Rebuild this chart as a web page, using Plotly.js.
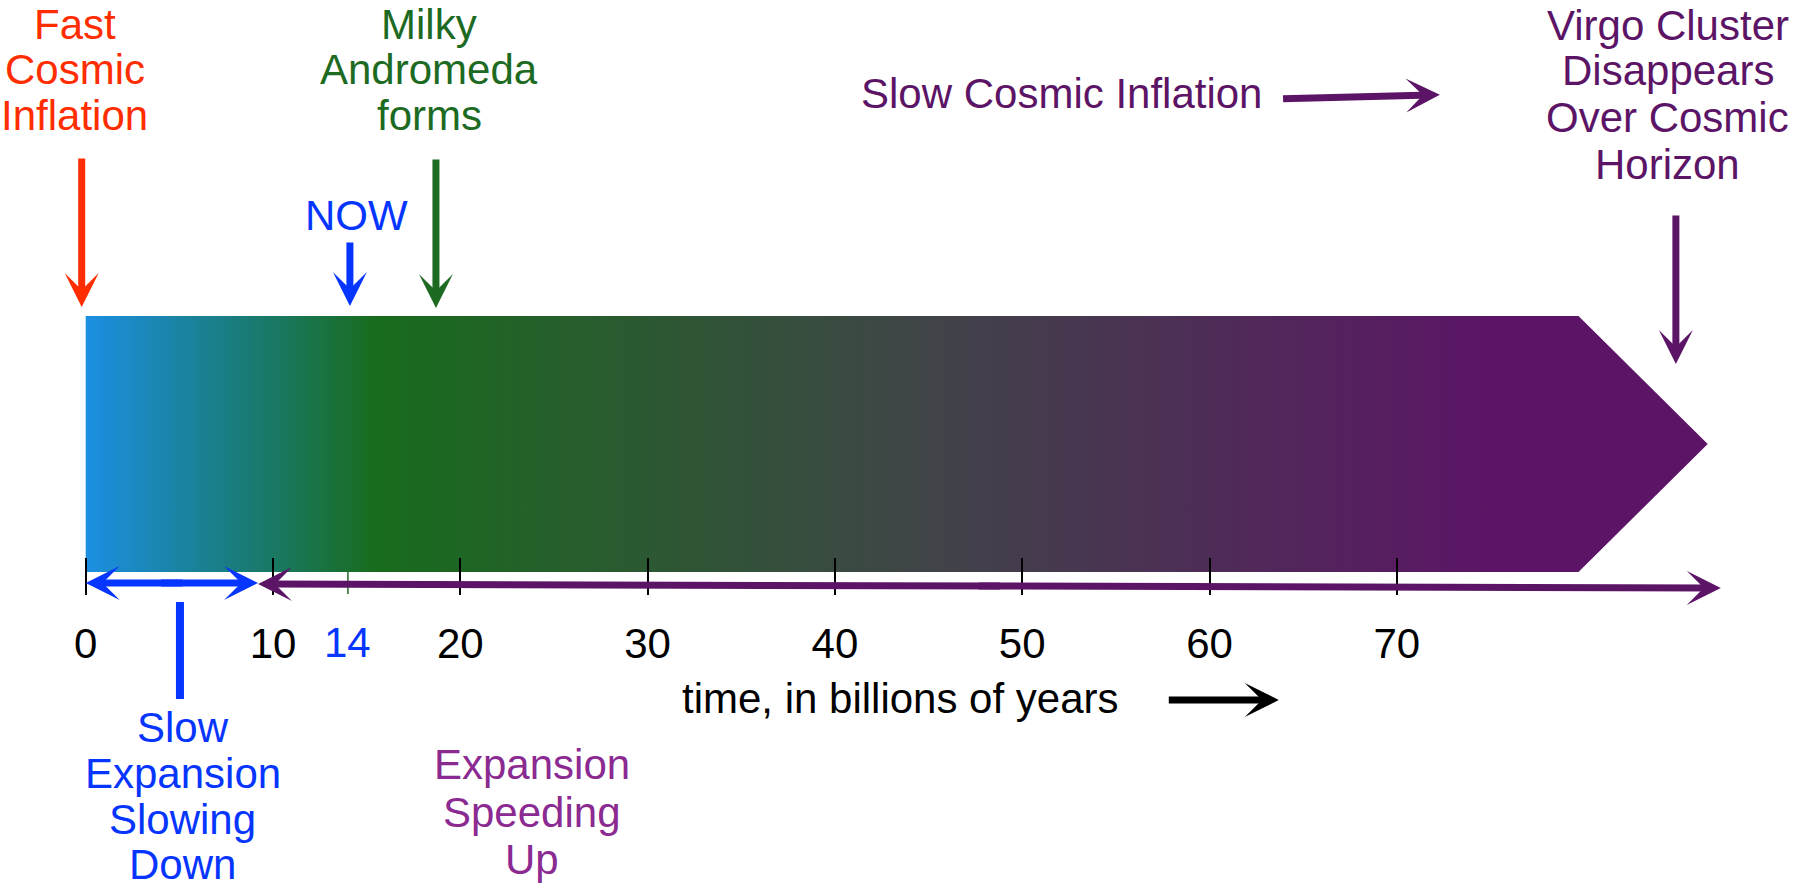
<!DOCTYPE html>
<html><head><meta charset="utf-8">
<script src="https://cdn.plot.ly/plotly-3.0.1.min.js"></script>
<style>html,body{margin:0;padding:0;background:#fff;overflow:hidden}#chart{width:1794px;height:889px}</style>
</head><body><div id="chart"></div>
<script>
// ---------------- data ----------------
const tickValues = [0, 10, 20, 30, 40, 50, 60, 70];
const tickLabels = ['0', '10', '20', '30', '40', '50', '60', '70'];
const nowTime = 14;
const nowLabel = '14';
const barTimes = [0, 79.7, 86.6];            // start, end of body, tip (billions of years)
const eventNames = ['Fast\nCosmic\nInflation', 'NOW', 'Milky\nAndromeda\nforms', 'Virgo Cluster\nDisappears\nOver Cosmic\nHorizon'];
const eventTimes = [0, 14, 18.7, 84.9];
const periodNames = ['Slow\nExpansion\nSlowing\nDown', 'Expansion\nSpeeding\nUp'];
const periodStart = [0, 9.2];
const periodEnd = [9.2, 87.3];
const phaseName = 'Slow Cosmic Inflation';
const axisTitle = 'time, in billions of years';

// ---------------- layout / style ----------------
const W = 1794, H = 889;
const FONT = 'Liberation Sans, Arial, Helvetica, sans-serif';
const FS = 42;
const PX0 = 85.7, PXU = 18.73;                 // pixel of t=0, pixels per unit
const xRange = [-PX0 / PXU, (W - PX0) / PXU];
const BAR_TOP = 316, BAR_BOT = 572;
const RED = '#ff2d00', GREEN = '#1d6a22', BLUE = '#0535ff', PURPLE = '#5c1566', MAGENTA = '#8b2a91';
const gradStops = [0, 15.5, 45, 75];
const gradColors = ['#1b8fe3', '#186c1d', '#404448', '#5c1566'];

const eventStyle = [
  {color: RED,    cx: 74.5,   base: [39, 84, 130],      arrow: [158, 307], shift: -4},
  {color: BLUE,   cx: 356,    base: [230],              arrow: [242, 306], shift: 2},
  {color: GREEN,  cx: 429,    base: [39, 84, 130],      arrow: [159, 308], shift: 0},
  {color: PURPLE, cx: 1667.5, base: [40, 85, 132, 179], arrow: [215, 364], shift: 0}
];
const periodStyle = [
  {color: BLUE,    textColor: BLUE,    cx: 182.5, base: [742, 788, 834, 879], y: [583, 583]},
  {color: PURPLE,  textColor: MAGENTA, cx: 532,   base: [779, 827, 874],      y: [584, 588]}
];

function textAnn(cx, baseline, text, color) {
  return {xref: 'paper', yref: 'y', x: cx / W, y: baseline - 0.345 * FS, text: text,
    showarrow: false, xanchor: 'center', yanchor: 'middle', borderpad: 0,
    font: {family: FONT, size: FS, color: color}};
}
function arrowAnn(x0, y0, x1, y1, color, shift) {
  return {xref: 'x', yref: 'y', axref: 'x', ayref: 'y', x: x1, y: y1, ax: x0, ay: y0,
    xshift: shift || 0, text: '', showarrow: true, arrowhead: 3, arrowsize: 0.81, arrowwidth: 7,
    arrowcolor: color, arrowside: 'end', standoff: 0, borderpad: 0, font: {size: 1}};
}

const annotations = [];
const shapes = [];

eventNames.forEach((name, i) => {
  const st = eventStyle[i];
  name.split('\n').forEach((ln, k) => annotations.push(textAnn(st.cx, st.base[k], ln, st.color)));
  annotations.push(arrowAnn(eventTimes[i], st.arrow[0], eventTimes[i], st.arrow[1], st.color, st.shift));
});

// double-headed period arrows: two halves drawn outward from an overlapping middle
periodNames.forEach((name, i) => {
  const st = periodStyle[i];
  name.split('\n').forEach((ln, k) => annotations.push(textAnn(st.cx, st.base[k], ln, st.textColor)));
  const a = periodStart[i], b = periodEnd[i];
  const mid = (a + b) / 2, ov = 0.6;
  const yAt = t => st.y[0] + (st.y[1] - st.y[0]) * (t - a) / (b - a);
  annotations.push(arrowAnn(mid + ov, yAt(mid + ov), a, st.y[0], st.color));
  annotations.push(arrowAnn(mid - ov, yAt(mid - ov), b, st.y[1], st.color));
});

// pointer from the "Slow Expansion" label up to its period arrow
const slowMid = periodStart[0] + (periodEnd[0] - periodStart[0]) * 0.547;
shapes.push({type: 'line', xref: 'x', yref: 'y', x0: slowMid, x1: slowMid, y0: 602, y1: 699,
  line: {color: BLUE, width: 8}});

// small green tick at "now"
shapes.push({type: 'line', xref: 'x', yref: 'y', x0: nowTime, x1: nowTime, y0: BAR_BOT, y1: 594,
  line: {color: GREEN, width: 1.5}});
annotations.push({xref: 'x', yref: 'y', x: nowTime, y: 657 - 0.345 * FS, text: nowLabel, showarrow: false,
  xanchor: 'center', yanchor: 'middle', borderpad: 0, font: {family: FONT, size: FS, color: BLUE}});

// "Slow Cosmic Inflation" label and arrow
annotations.push(textAnn(1061, 108, phaseName, PURPLE));
annotations.push(arrowAnn(63.9, 98.7, 72.3, 94.7, PURPLE));

// axis title with arrow
annotations.push(textAnn(900, 713, axisTitle, '#000'));
annotations.push(arrowAnn(57.8, 700, 63.7, 700, '#000'));

const gMin = gradStops[0], gMax = gradStops[gradStops.length - 1];
const bar = {
  type: 'scatter', mode: 'none', fill: 'toself', hoverinfo: 'skip',
  x: [barTimes[0], barTimes[1], barTimes[2], barTimes[1], barTimes[0], barTimes[0]],
  y: [BAR_TOP, BAR_TOP, (BAR_TOP + BAR_BOT) / 2, BAR_BOT, BAR_BOT, BAR_TOP],
  fillcolor: '#404448',
  fillgradient: {type: 'horizontal', start: gMin, stop: gMax,
    colorscale: gradStops.map((t, i) => [(t - gMin) / (gMax - gMin), gradColors[i]])}
};

const layout = {
  width: W, height: H, margin: {l: 0, r: 0, t: 0, b: 0, pad: 0},
  paper_bgcolor: '#ffffff', plot_bgcolor: 'rgba(0,0,0,0)', showlegend: false, hovermode: false,
  font: {family: FONT},
  xaxis: {range: xRange, anchor: 'free', position: (H - 557) / H, tickmode: 'array',
    tickvals: tickValues, ticktext: tickLabels, ticks: 'outside', ticklen: 37, tickwidth: 2,
    tickcolor: '#000', showline: false, showgrid: false, zeroline: false, fixedrange: true,
    ticklabelstandoff: 13, tickfont: {family: FONT, size: FS, color: '#000'}},
  yaxis: {range: [H, 0], visible: false, fixedrange: true},
  annotations: annotations, shapes: shapes
};

Plotly.newPlot('chart', [bar], layout, {displayModeBar: false, staticPlot: true});
</script></body></html>
